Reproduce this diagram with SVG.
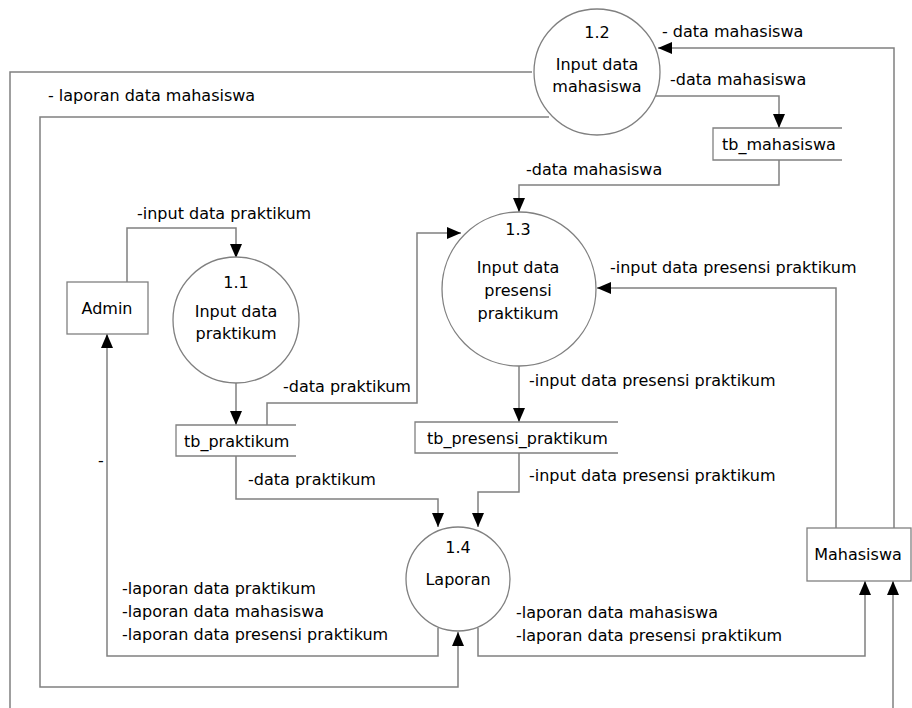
<svg xmlns="http://www.w3.org/2000/svg" width="912" height="708" viewBox="0 0 912 708">
<style>
text{font-family:"DejaVu Sans","Liberation Sans",sans-serif;font-size:16px;fill:#000}
.c{text-anchor:middle}
.proc{fill:#fff;stroke:#808080;stroke-width:1.3}
.ent{fill:#fff;stroke:#808080;stroke-width:1.3}
.st{fill:none;stroke:#808080;stroke-width:1.3}
.ln{fill:none;stroke:#808080;stroke-width:1.5}
.ar{marker-end:url(#ah)}
</style>
<defs>
<marker id="ah" markerUnits="userSpaceOnUse" markerWidth="14" markerHeight="14" viewBox="0 0 14 12" refX="14" refY="6" orient="auto">
<path d="M0,0 L14,6 L0,12 z" fill="#000"/>
</marker>
</defs>
<rect width="912" height="708" fill="#fff"/>
<g id="connectors">
<polyline class="ln" points="532,72 10,72 10,708"/>
<polyline class="ln ar" points="549,117 40,117 40,687 458,687 458,632"/>
<polyline class="ln ar" points="894,528 894,48 658,48"/>
<polyline class="ln ar" points="655,96 779,96 779,128"/>
<polyline class="ln ar" points="779,160 779,185 519,185 519,212"/>
<polyline class="ln ar" points="127,282 127,228 236,228 236,258"/>
<polyline class="ln ar" points="236,382 236,425"/>
<polyline class="ln ar" points="267,425 267,403 417,403 417,233 461,233"/>
<polyline class="ln ar" points="836,528 836,288 597,288"/>
<polyline class="ln ar" points="519,366 519,422"/>
<polyline class="ln ar" points="519,453 519,492 478,492 478,527"/>
<polyline class="ln ar" points="236,456 236,499 438,499 438,527"/>
<polyline class="ln ar" points="438,628 438,656 107,656 107,334"/>
<polyline class="ln ar" points="478,628 478,656 865,656 865,581"/>
<polyline class="ln ar" points="893,708 893,581"/>
<text x="662" y="37">- data mahasiswa</text>
<text x="670" y="85">-data mahasiswa</text>
<text x="526" y="175">-data mahasiswa</text>
<text x="48" y="101">- laporan data mahasiswa</text>
<text x="137" y="219">-input data praktikum</text>
<text x="283" y="392">-data praktikum</text>
<text x="610" y="273">-input data presensi praktikum</text>
<text x="529" y="386">-input data presensi praktikum</text>
<text x="529" y="481">-input data presensi praktikum</text>
<text x="248" y="485">-data praktikum</text>
<text x="98" y="466">-</text>
<text x="122" y="594">-laporan data praktikum</text>
<text x="122" y="617">-laporan data mahasiswa</text>
<text x="122" y="640">-laporan data presensi praktikum</text>
<text x="516" y="618">-laporan data mahasiswa</text>
<text x="516" y="641">-laporan data presensi praktikum</text>
</g>
<g id="p12">
<circle class="proc" cx="597" cy="72" r="63"/>
<text class="c" x="597" y="38">1.2</text>
<text class="c" x="597" y="70">Input data</text>
<text class="c" x="597" y="92">mahasiswa</text>
</g>
<g id="p11">
<circle class="proc" cx="236" cy="320" r="63"/>
<text class="c" x="236" y="288">1.1</text>
<text class="c" x="236" y="317">Input data</text>
<text class="c" x="236" y="339">praktikum</text>
</g>
<g id="p13">
<circle class="proc" cx="519" cy="289" r="77"/>
<text class="c" x="518" y="235">1.3</text>
<text class="c" x="518" y="273">Input data</text>
<text class="c" x="518" y="296">presensi</text>
<text class="c" x="518" y="319">praktikum</text>
</g>
<g id="p14">
<circle class="proc" cx="458" cy="579" r="52"/>
<text class="c" x="458" y="553">1.4</text>
<text class="c" x="458" y="585">Laporan</text>
</g>
<g id="admin">
<rect class="ent" x="67" y="282" width="81" height="52"/>
<text class="c" x="107" y="314">Admin</text>
</g>
<g id="mahasiswa">
<rect class="ent" x="807" y="528" width="104" height="53"/>
<text class="c" x="858" y="560">Mahasiswa</text>
</g>
<g id="tb_mahasiswa">
<rect x="713" y="128" width="129" height="32" fill="#fff"/>
<path class="st" d="M842,128 H713 V160 H842"/>
<text x="722" y="150">tb_mahasiswa</text>
</g>
<g id="tb_praktikum">
<rect x="176" y="425" width="120" height="31" fill="#fff"/>
<path class="st" d="M296,425 H176 V456 H296"/>
<text x="184" y="447">tb_praktikum</text>
</g>
<g id="tb_presensi_praktikum">
<rect x="415" y="422" width="203" height="31" fill="#fff"/>
<path class="st" d="M618,422 H415 V453 H618"/>
<text x="427" y="444">tb_presensi_praktikum</text>
</g>
</svg>
